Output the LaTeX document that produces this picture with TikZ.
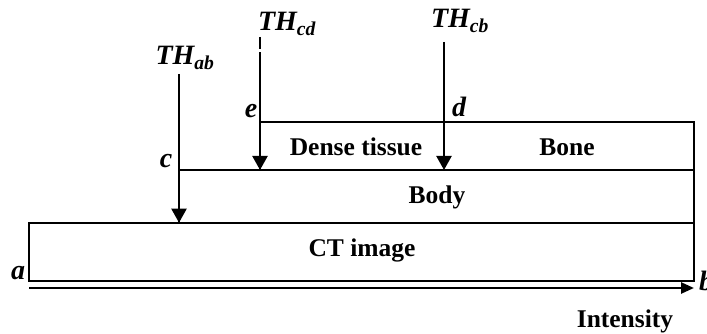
\documentclass[tikz,border=0pt]{standalone}
\usepackage{fontspec}
\setmainfont{Liberation Serif}
\usetikzlibrary{positioning,arrows.meta}

\begin{document}
\begin{tikzpicture}[x=1pt, y=-1pt,
  band/.style={draw, line width=1.8pt},
  arr/.style={-{Triangle[length=14pt, width=15pt]}, line width=2.2pt},
  axis/.style={-{Triangle[length=13pt, width=11pt]}, line width=2.6pt},
  lbl/.style={font=\fontsize{25.5}{29}\selectfont\bfseries, inner sep=0pt},
  pt/.style={font=\fontsize{28}{32}\selectfont\bfseries\itshape, inner sep=0pt},
  th/.style={font=\fontsize{28}{32}\selectfont\bfseries\itshape, inner sep=0pt}
]
  \useasboundingbox (0,0) rectangle (707,334);
  % corners of the bands
  \coordinate (a) at (29,281);
  \coordinate (b) at (694,281);
  \coordinate (c) at (179,170);
  \coordinate (e) at (260,122);
  \coordinate (d) at (444,122);
  % bands
  \draw[band] (29,222.7) rectangle (b);
  \draw[band] (c) rectangle (694,222.7);
  \draw[band] (e) rectangle (694,170);
  \node[lbl] (ct)    at (362,250) {CT image};
  \node[lbl] (body)  at (437,197) {Body};
  \node[lbl] (dense) at (356,147) {Dense tissue};
  \node[lbl] (bone)  at (567,147) {Bone};
  % thresholds
  \node[th] (thab) at (185,58) {TH\textsubscript{ab}};
  \node[th] (thcd) at (287,24) {TH\textsubscript{cd}};
  \node[th] (thcb) at (460,21) {TH\textsubscript{cb}};
  \coordinate (ab0) at (179,74);
  \coordinate (cd0) at (260,37);
  \coordinate (cb0) at (444,42);
  \coordinate (ab1) at (179,222.7);
  \coordinate (cd1) at (260,170);
  \coordinate (cb1) at (444,170);
  \draw[arr] (ab0) -- (ab1);
  \draw[arr, dash pattern=on 12pt off 3.5pt on 400pt] (cd0) -- (cd1);
  \draw[arr] (cb0) -- (cb1);
  % point labels
  \node[pt] (la) at (18,273) {a};
  \node[pt] (lc) at (166,161) {c};
  \node[pt] (le) at (251,111) {e};
  \node[pt] (ld) at (459,107) {d};
  % intensity axis
  \coordinate (ax0) at (29,288);
  \coordinate (ax1) at (694,288);
  \draw[axis] (ax0) -- (ax1);
  \node[pt, anchor=west] (lb) at (699,281) {b};
  \node[lbl] (int) at (625,321) {Intensity};
\end{tikzpicture}
\end{document}
